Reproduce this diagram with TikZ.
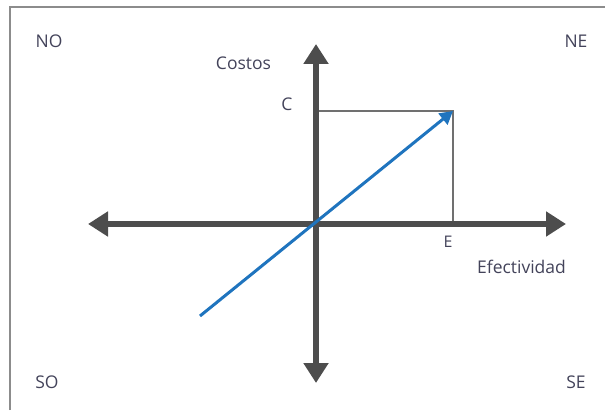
\documentclass[tikz,border=0pt]{standalone}
\usepackage{fontspec}
\setmainfont{Open Sans}
\usetikzlibrary{arrows.meta}
\definecolor{axisgray}{HTML}{4D4D4D}
\definecolor{txtgray}{HTML}{43435A}
\definecolor{blueline}{HTML}{1F74BE}
\definecolor{framegray}{HTML}{8C8C8C}
\begin{document}
\begin{tikzpicture}[x=1pt,y=1pt,
  axis/.style={draw=axisgray,line width=6pt,{Triangle[width=24pt,length=20pt]}-{Triangle[width=24pt,length=20pt]}},
  thin/.style={draw=framegray!80!black,line width=1.2pt},
  lbl/.style={text=txtgray,font=\fontsize{17.5}{20}\selectfont,inner sep=0pt}]
\useasboundingbox (0,0) rectangle (605,410);
\draw[framegray,line width=1.5pt] (10,0) -- (10,403) -- (605,403);
% coordinates
\coordinate (ytop) at (316,366);
\coordinate (ybot) at (316,27);
\coordinate (xl) at (88,186);
\coordinate (xr) at (566,186);
\coordinate (c) at (316,299);
\coordinate (p) at (453,299);
\coordinate (e) at (453,186);
\coordinate (s) at (200,94);
% thin guide lines
\draw[thin] (c) -- (p) -- (e);
% axes
\draw[axis] (ybot) -- (ytop);
\draw[axis] (xl) -- (xr);
% blue vector
\draw[blueline,line width=3pt,-{Triangle[width=14pt,length=13pt]}] (s) -- (p);
% labels
\node[lbl] (costos) at (243.5,347) {Costos};
\node[lbl] (cl) at (287,306) {C};
\node[lbl,font=\fontsize{16}{18}\selectfont] (el) at (448,168) {E};
\node[lbl] (efe) at (521.5,143) {Efectividad};
\node[lbl] (no) at (49,369) {NO};
\node[lbl] (ne) at (576,369) {NE};
\node[lbl] (so) at (47,28) {SO};
\node[lbl] (se) at (576,28) {SE};
\end{tikzpicture}
\end{document}
